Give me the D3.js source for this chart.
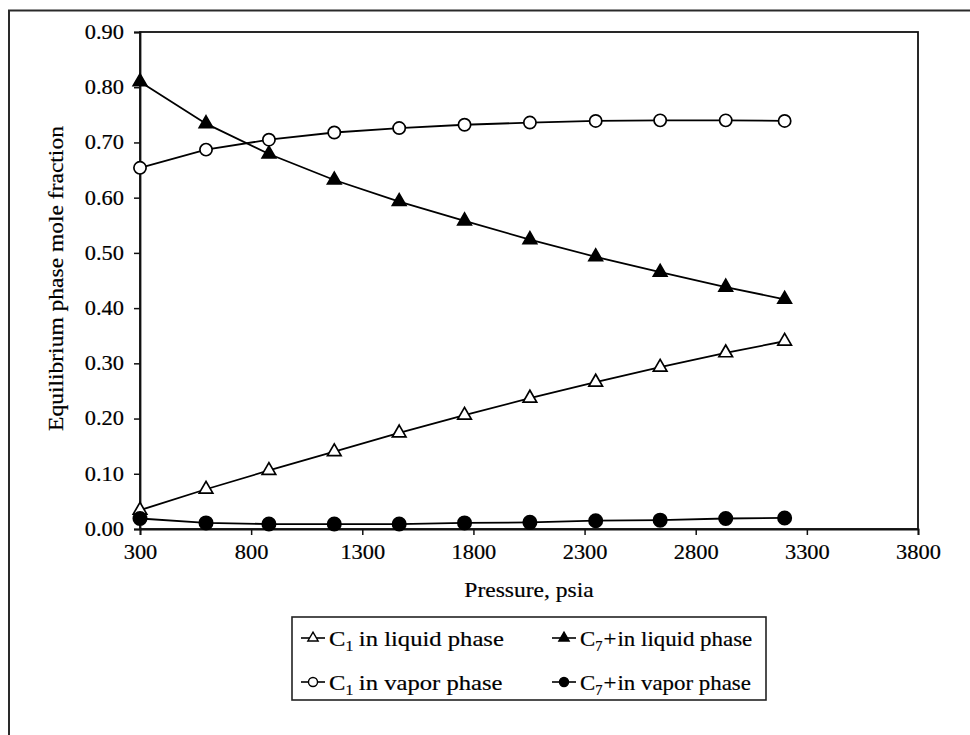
<!DOCTYPE html>
<html>
<head>
<meta charset="utf-8">
<script src="https://cdn.jsdelivr.net/npm/d3@7"></script>
<style>
  html, body { margin: 0; padding: 0; background: #fff; }
  svg { display: block; font-family: "Liberation Serif", "Times New Roman", serif; }
  svg text { fill: #000; stroke: #000; stroke-width: 0.2px; }
</style>
</head>
<body>
<svg id="chart" width="970" height="735"></svg>
<script>
// Equilibrium phase compositions vs pressure
const pressure = [300, 597, 880, 1174, 1466, 1760, 2054, 2350, 2640, 2935, 3200];
const c1Liquid = [0.034, 0.072, 0.106, 0.140, 0.174, 0.206, 0.237, 0.266, 0.293, 0.319, 0.340];
const c7Liquid = [0.810, 0.734, 0.679, 0.632, 0.593, 0.558, 0.524, 0.493, 0.465, 0.438, 0.416];
const c1Vapor  = [0.654, 0.687, 0.705, 0.718, 0.726, 0.732, 0.736, 0.739, 0.740, 0.740, 0.739];
const c7Vapor  = [0.019, 0.011, 0.009, 0.009, 0.009, 0.011, 0.012, 0.015, 0.016, 0.019, 0.020];

const xTicks = [300, 800, 1300, 1800, 2300, 2800, 3300, 3800];
const yTicks = [0.0, 0.1, 0.2, 0.3, 0.4, 0.5, 0.6, 0.7, 0.8, 0.9];

const seriesNames = ["C1 in liquid phase", "C7+ in liquid phase", "C1 in vapor phase", "C7+ in vapor phase"];

const series = [
  { name: seriesNames[0], values: c1Liquid, shape: "triangle", filled: false, sub: "1", plus: false, rest: "in liquid phase" },
  { name: seriesNames[1], values: c7Liquid, shape: "triangle", filled: true,  sub: "7", plus: true,  rest: "in liquid phase" },
  { name: seriesNames[2], values: c1Vapor,  shape: "circle",   filled: false, sub: "1", plus: false, rest: "in vapor phase" },
  { name: seriesNames[3], values: c7Vapor,  shape: "circle",   filled: true,  sub: "7", plus: true,  rest: "in vapor phase" }
];

const SX = 1.12;      // horizontal stretch applied to text
const FS = 20;        // base font size

const svg = d3.select("#chart");

// outer frame
svg.append("rect")
  .attr("x", 9).attr("y", 10.5)
  .attr("width", 1000).attr("height", 1000)
  .attr("fill", "none").attr("stroke", "#2a2a2a").attr("stroke-width", 2);

const plot = { left: 140, right: 918, top: 32, bottom: 529 };

const x = d3.scaleLinear().domain([300, 3800]).range([plot.left, plot.right]);
const y = d3.scaleLinear().domain([0, 0.9]).range([plot.bottom, plot.top]);

// plot frame
svg.append("rect")
  .attr("x", plot.left).attr("y", plot.top)
  .attr("width", plot.right - plot.left).attr("height", plot.bottom - plot.top)
  .attr("fill", "none").attr("stroke", "#111").attr("stroke-width", 1.8);

// axes
const xAxis = svg.append("g")
  .attr("transform", `translate(0,${plot.bottom})`)
  .call(d3.axisBottom(x).tickValues(xTicks).tickFormat(d3.format("d")).tickSize(6).tickPadding(10));
const yAxis = svg.append("g")
  .attr("transform", `translate(${plot.left},0)`)
  .call(d3.axisLeft(y).tickValues(yTicks).tickFormat(d3.format(".2f")).tickSize(6).tickPadding(10));

[xAxis, yAxis].forEach(g => {
  g.select(".domain").attr("stroke", "#111").attr("stroke-width", 1.8);
  g.selectAll(".tick line").attr("stroke", "#111").attr("stroke-width", 1.5);
  g.selectAll(".tick text")
    .attr("font-family", "Liberation Serif, serif")
    .attr("font-size", FS);
});
xAxis.selectAll(".tick text").attr("transform", `scale(${SX},1)`);
yAxis.selectAll(".tick text")
  .attr("x", -16 / SX)
  .attr("transform", `scale(${SX},1)`);

// axis titles
svg.append("text")
  .attr("transform", `translate(${(plot.left + plot.right) / 2},597) scale(${SX},1)`)
  .attr("text-anchor", "middle")
  .attr("font-size", FS + 1)
  .text("Pressure, psia");

svg.append("text")
  .attr("transform", `translate(56,${(plot.top + plot.bottom) / 2 - 2}) rotate(-90) scale(${SX},1)`)
  .attr("text-anchor", "middle")
  .attr("dy", "0.35em")
  .attr("font-size", FS + 1)
  .text("Equilibrium phase mole fraction");

// symbol generators
function symbolPath(shape, size) {
  return d3.symbol().type(shape === "triangle" ? d3.symbolTriangle : d3.symbolCircle).size(size)();
}
const markerSize = { triangle: 80, circle: 118 };

const line = d3.line()
  .x((d, i) => x(pressure[i]))
  .y(d => y(d));

series.forEach(s => {
  const g = svg.append("g");
  g.append("path")
    .attr("d", line(s.values))
    .attr("fill", "none")
    .attr("stroke", "#000")
    .attr("stroke-width", 1.8);
  g.selectAll("path.mark")
    .data(s.values)
    .join("path")
    .attr("class", "mark")
    .attr("transform", (d, i) => `translate(${x(pressure[i])},${y(d)})`)
    .attr("d", symbolPath(s.shape, s.filled && s.shape === "circle" ? 140 : markerSize[s.shape]))
    .attr("fill", s.filled ? "#000" : "#fff")
    .attr("stroke", "#000")
    .attr("stroke-width", 1.7);
});

// legend
const legend = svg.append("g");
legend.append("rect")
  .attr("x", 292).attr("y", 617)
  .attr("width", 474).attr("height", 83)
  .attr("fill", "#fff").attr("stroke", "#222").attr("stroke-width", 1.6);

const legendCols = [301, 552];
const legendRows = [638, 682];
const legendStretch = [SX, 1.04];

series.forEach((s, i) => {
  const col = i % 2;
  const lx = legendCols[col];
  const ly = legendRows[Math.floor(i / 2)];
  const item = legend.append("g").attr("transform", `translate(${lx},${ly})`);
  item.append("line")
    .attr("x1", 0).attr("x2", 24).attr("y1", 0).attr("y2", 0)
    .attr("stroke", "#000").attr("stroke-width", 1.6);
  item.append("path")
    .attr("transform", "translate(12,0)")
    .attr("d", symbolPath(s.shape, s.shape === "triangle" ? 46 : 64))
    .attr("fill", s.filled ? "#000" : "#fff")
    .attr("stroke", "#000")
    .attr("stroke-width", 1.4);
  const t = item.append("text")
    .attr("transform", `translate(28,0) scale(${legendStretch[col]},1)`)
    .attr("dy", "0.35em")
    .attr("font-size", FS + 2);
  t.append("tspan").text("C");
  t.append("tspan").attr("font-size", 14).attr("dy", 5).text(s.sub);
  if (s.plus) {
    t.append("tspan").attr("dy", -5).attr("dx", 1).text("+");
    t.append("tspan").attr("dx", 1).text(s.rest);
  } else {
    t.append("tspan").attr("dy", -5).attr("dx", 5).text(s.rest);
  }
});
</script>
</body>
</html>
